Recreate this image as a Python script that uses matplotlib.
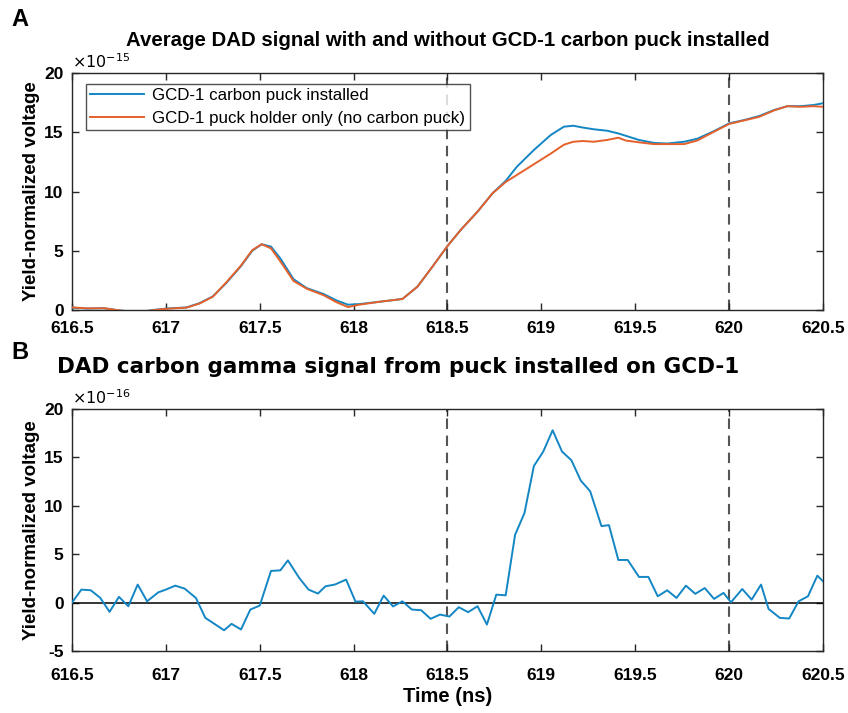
import matplotlib
matplotlib.use("Agg")
import matplotlib.pyplot as plt

plt.rcParams['font.family'] = ['Liberation Sans', 'DejaVu Sans']
plt.rcParams['axes.unicode_minus'] = False

# ---- data: panel A (x 1e-15) ----
t_top = [616.50, 616.58, 616.67, 616.76, 616.86, 616.93, 617.00, 617.11, 617.18, 617.25,
         617.32, 617.40, 617.46, 617.51, 617.56, 617.61, 617.68, 617.75, 617.84, 617.91,
         617.97, 618.03, 618.14, 618.26, 618.34, 618.42, 618.50, 618.57, 618.66, 618.74,
         618.81, 618.87, 618.96, 619.05, 619.12, 619.17, 619.22, 619.28, 619.35, 619.41,
         619.45, 619.52, 619.60, 619.67, 619.76, 619.83, 619.92, 620.00, 620.08, 620.16,
         620.24, 620.31, 620.38, 620.45, 620.50]
puck = [0.20, 0.12, 0.15, -0.05, -0.18, 0.00, 0.12, 0.22, 0.58, 1.15,
        2.25, 3.70, 5.00, 5.55, 5.35, 4.35, 2.60, 1.85, 1.35, 0.80,
        0.45, 0.50, 0.70, 0.93, 1.97, 3.66, 5.40, 6.75, 8.30, 9.85,
        10.90, 12.10, 13.50, 14.77, 15.47, 15.55, 15.40, 15.25, 15.13, 14.90,
        14.70, 14.35, 14.10, 14.05, 14.20, 14.45, 15.10, 15.75, 16.03, 16.37,
        16.88, 17.20, 17.20, 17.30, 17.45]
holder = [0.22, 0.14, 0.15, -0.05, -0.18, -0.02, 0.10, 0.20, 0.55, 1.12,
          2.30, 3.75, 5.05, 5.55, 5.20, 4.10, 2.45, 1.80, 1.25, 0.65,
          0.25, 0.45, 0.70, 0.93, 1.97, 3.66, 5.40, 6.75, 8.30, 9.85,
          10.80, 11.40, 12.30, 13.20, 13.95, 14.20, 14.26, 14.20, 14.35, 14.54,
          14.30, 14.15, 14.00, 14.00, 14.00, 14.30, 15.05, 15.70, 16.00, 16.30,
          16.85, 17.20, 17.15, 17.20, 17.15]

# ---- data: panel B (x 1e-16) ----
t_diff = [616.50, 616.55, 616.60, 616.65, 616.70, 616.75, 616.80, 616.85, 616.90, 616.96,
          617.00, 617.05, 617.10, 617.16, 617.21, 617.25, 617.31, 617.35, 617.40, 617.45,
          617.50, 617.56, 617.61, 617.65, 617.71, 617.76, 617.81, 617.85, 617.90, 617.96,
          618.01, 618.05, 618.11, 618.16, 618.21, 618.26, 618.31, 618.36, 618.41, 618.46,
          618.51, 618.56, 618.61, 618.66, 618.71, 618.76, 618.81, 618.86, 618.91, 618.96,
          619.01, 619.06, 619.11, 619.16, 619.21, 619.26, 619.32, 619.36, 619.41, 619.46,
          619.52, 619.57, 619.62, 619.67, 619.72, 619.77, 619.82, 619.87, 619.92, 619.97,
          620.01, 620.07, 620.12, 620.17, 620.21, 620.27, 620.32, 620.37, 620.42, 620.47,
          620.50]
carbon = [0.00, 1.34, 1.27, 0.50, -0.96, 0.59, -0.38, 1.86, 0.13, 1.06,
          1.34, 1.75, 1.44, 0.48, -1.58, -2.09, -2.86, -2.20, -2.78, -0.72,
          -0.31, 3.27, 3.33, 4.36, 2.55, 1.34, 0.93, 1.68, 1.86, 2.37,
          0.10, 0.13, -1.16, 0.72, -0.40, 0.13, -0.72, -0.79, -1.68, -1.24,
          -1.44, -0.48, -0.99, -0.38, -2.27, 0.82, 0.75, 7.00, 9.25, 14.10,
          15.60, 17.80, 15.60, 14.70, 12.60, 11.50, 7.90, 8.00, 4.40, 4.40,
          2.65, 2.65, 0.65, 1.27, 0.48, 1.75, 0.90, 1.50, 0.38, 1.00,
          0.03, 1.40, 0.30, 1.86, -0.65, -1.58, -1.65, 0.13, 0.65, 2.78,
          2.20]

xticks = [616.5, 617, 617.5, 618, 618.5, 619, 619.5, 620, 620.5]
xtick_labels = ['616.5', '617', '617.5', '618', '618.5', '619', '619.5', '620', '620.5']
markers = [618.5, 620]

blue = '#1386c4'
orange = '#e5602a'

fig = plt.figure(figsize=(8.48, 7.13), dpi=100)
ax1 = fig.add_axes([0.0849, 0.5652, 0.8856, 0.3324])
ax2 = fig.add_axes([0.0849, 0.0870, 0.8856, 0.3394])


def style(ax, ylim, yticks, xpad):
    ax.set_xlim(616.5, 620.5)
    ax.set_ylim(*ylim)
    ax.set_xticks(xticks)
    ax.set_xticklabels(xtick_labels)
    ax.set_yticks(yticks)
    ax.tick_params(direction='in', length=5, width=1, top=True, right=True,
                   labelsize=12.5, colors='#262626', pad=6)
    ax.tick_params(axis='x', pad=xpad)
    for lab in ax.get_xticklabels() + ax.get_yticklabels():
        lab.set_fontweight('bold')
        lab.set_color('black')
    for sp in ax.spines.values():
        sp.set_color('#262626')
        sp.set_linewidth(1)
    ax.set_ylabel('Yield-normalized voltage', fontsize=13.5, fontweight='bold', labelpad=3)
    for m in markers:
        ax.axvline(m, color='#555555', lw=1.5, ls=(0, (5, 3.2)), zorder=1)


# panel A
ax1.plot(t_top, puck, color=blue, lw=1.4, label='GCD-1 carbon puck installed', zorder=3)
ax1.plot(t_top, holder, color=orange, lw=1.4, label='GCD-1 puck holder only (no carbon puck)', zorder=3)
style(ax1, (0, 20), [0, 5, 10, 15, 20], 8)
leg = ax1.legend(loc='upper left', bbox_to_anchor=(0.018, 0.955), fontsize=12.2,
                 frameon=True, fancybox=False, edgecolor='#262626', handlelength=3.2,
                 borderpad=0.25, labelspacing=0.45, handletextpad=0.5, borderaxespad=0)
leg.get_frame().set_linewidth(1)
ax1.text(0.0, 1.008, r'$\times10^{-15}$', transform=ax1.transAxes, fontsize=11.5,
         ha='left', va='bottom')
fig.text(0.528, 0.943, 'Average DAD signal with and without GCD-1 carbon puck installed',
         ha='center', va='center', fontsize=14.7, fontweight='bold')
fig.text(0.014, 0.972, 'A', fontsize=17, fontweight='bold', ha='left', va='center')

# panel B
ax2.axhline(0, color='black', lw=1.1, zorder=2)
ax2.plot(t_diff, carbon, color=blue, lw=1.4, zorder=3)
style(ax2, (-5, 20), [-5, 0, 5, 10, 15, 20], 12.5)
ax2.text(0.0, 1.008, r'$\times10^{-16}$', transform=ax2.transAxes, fontsize=11.5,
         ha='left', va='bottom')
ax2.set_xlabel('Time (ns)', fontsize=14.5, fontweight='bold', labelpad=3)
fig.text(0.469, 0.485, 'DAD carbon gamma signal from puck installed on GCD-1',
         ha='center', va='center', fontsize=15.5, fontweight='bold',
         family=['DejaVu Sans'])
fig.text(0.014, 0.505, 'B', fontsize=17, fontweight='bold', ha='left', va='center')

fig.savefig('out.png', dpi=100, facecolor='white')
